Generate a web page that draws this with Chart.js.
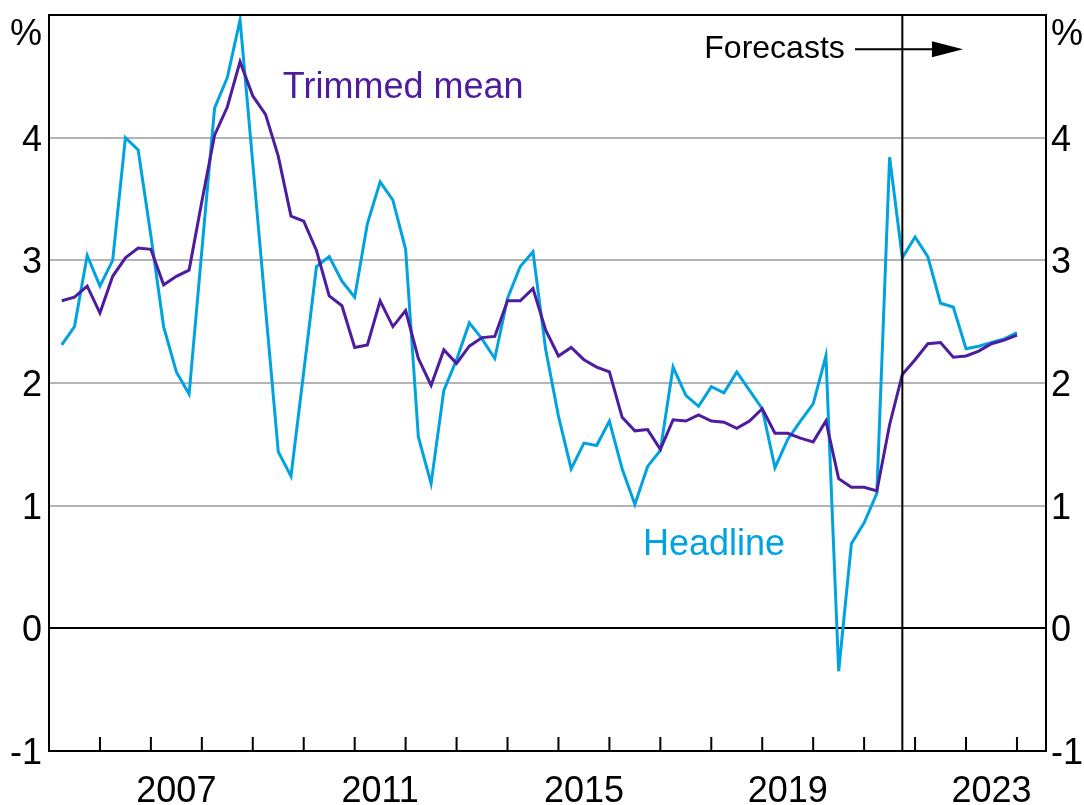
<!DOCTYPE html>
<html>
<head>
<meta charset="utf-8">
<script src="https://cdn.jsdelivr.net/npm/chart.js@4.4.1/dist/chart.umd.min.js"></script>
<style>
  html, body { margin: 0; padding: 0; background: #fff; }
  #wrap { width: 1084px; height: 805px; }
</style>
</head>
<body>
<div id="wrap"><canvas id="cpi" width="1084" height="805"></canvas></div>
<script>
// quarterly, year-ended %, Mar 2005 .. Dec 2023 (forecasts from Dec 2021)
const firstYear = 2005;
const headline = [
    2.31, 2.46, 3.04, 2.79, 3.00, 4.00, 3.90, 3.20, 2.46, 2.09, 1.91, 3.08,
    4.24, 4.49, 4.96, 3.79, 2.61, 1.44, 1.24, 2.09, 2.95, 3.03, 2.83, 2.70,
    3.30, 3.64, 3.49, 3.09, 1.56, 1.18, 1.94, 2.19, 2.49, 2.36, 2.20, 2.69,
    2.95, 3.07, 2.27, 1.73, 1.30, 1.51, 1.49, 1.69, 1.30, 1.01, 1.32, 1.45,
    2.13, 1.90, 1.81, 1.97, 1.92, 2.09, 1.94, 1.79, 1.31, 1.54, 1.69, 1.83,
    2.22, -0.35, 0.69, 0.86, 1.10, 3.84, 3.02, 3.19, 3.03, 2.65, 2.62, 2.28,
    2.30, 2.33, 2.36, 2.41
];
const trimmedMean = [
    2.67, 2.70, 2.79, 2.57, 2.87, 3.02, 3.10, 3.09, 2.80, 2.87, 2.92, 3.48,
    4.02, 4.25, 4.62, 4.34, 4.19, 3.85, 3.36, 3.32, 3.08, 2.71, 2.63, 2.29,
    2.31, 2.67, 2.46, 2.59, 2.20, 1.98, 2.27, 2.16, 2.30, 2.37, 2.38, 2.67,
    2.67, 2.77, 2.43, 2.22, 2.29, 2.19, 2.13, 2.09, 1.72, 1.61, 1.62, 1.46,
    1.70, 1.69, 1.74, 1.69, 1.68, 1.63, 1.69, 1.79, 1.59, 1.59, 1.55, 1.52,
    1.69, 1.22, 1.15, 1.15, 1.12, 1.66, 2.07, 2.19, 2.32, 2.33, 2.21, 2.22,
    2.26, 2.32, 2.35, 2.39
];
const yearLabels = [2007, 2011, 2015, 2019, 2023];
const yTicks = [-1, 0, 1, 2, 3, 4, 5];
const forecastStart = 2021.75;

const HEADLINE_COLOR = '#00a3e0';
const TRIMMED_COLOR = '#4e1c9e';
const FONT = 'Arial, "Liberation Sans", sans-serif';

Chart.defaults.font.family = FONT;
Chart.defaults.color = '#000';

function toPoints(values) {
    return values.map((v, i) => ({ x: firstYear + (i + 1) / 4, y: v }));
}

// no automatic room for half-labels: the frame is placed by hand
function noPad(scale) {
    scale.paddingTop = 0;
    scale.paddingBottom = 0;
    scale.paddingLeft = 0;
    scale.paddingRight = 0;
}

const overlay = {
    id: 'overlay',
    afterDraw(chart) {
        const { ctx, chartArea: a, scales } = chart;
        const x = scales.x, y = scales.y;
        ctx.save();
        ctx.strokeStyle = '#000';
        ctx.lineWidth = 2;
        // top frame
        ctx.beginPath();
        ctx.moveTo(a.left, a.top);
        ctx.lineTo(a.right, a.top);
        ctx.stroke();
        // year ticks, pointing into the plot
        ctx.beginPath();
        for (let yr = Math.ceil(x.min) + 1; yr < x.max; yr++) {
            const px = x.getPixelForValue(yr);
            ctx.moveTo(px, a.bottom);
            ctx.lineTo(px, a.bottom - 14);
        }
        ctx.stroke();
        // forecast divider
        const fx = x.getPixelForValue(forecastStart);
        ctx.beginPath();
        ctx.moveTo(fx, a.top);
        ctx.lineTo(fx, a.bottom);
        ctx.stroke();

        // % labels
        ctx.fillStyle = '#000';
        ctx.font = '36px ' + FONT;
        ctx.textBaseline = 'alphabetic';
        ctx.textAlign = 'right';
        ctx.fillText('%', a.left - 7, 45);
        ctx.textAlign = 'left';
        ctx.fillText('%', a.right + 5, 45);

        // series labels
        ctx.fillStyle = TRIMMED_COLOR;
        ctx.fillText('Trimmed mean', x.getPixelForValue(2009.59), y.getPixelForValue(4.32));
        ctx.fillStyle = HEADLINE_COLOR;
        ctx.fillText('Headline', x.getPixelForValue(2016.66), y.getPixelForValue(0.60));

        // forecasts note + arrow
        ctx.fillStyle = '#000';
        ctx.font = '32px ' + FONT;
        ctx.textAlign = 'right';
        ctx.textBaseline = 'middle';
        const ay = y.getPixelForValue(4.72);
        ctx.fillText('Forecasts', x.getPixelForValue(2020.62), ay);
        const ax0 = x.getPixelForValue(2020.82);
        const ax1 = x.getPixelForValue(2022.94);
        ctx.beginPath();
        ctx.moveTo(ax0, ay);
        ctx.lineTo(ax1 - 20, ay);
        ctx.stroke();
        ctx.beginPath();
        ctx.moveTo(ax1, ay);
        ctx.lineTo(ax1 - 31, ay - 8);
        ctx.lineTo(ax1 - 31, ay + 8);
        ctx.closePath();
        ctx.fill();
        ctx.restore();
    }
};

const config = {
    type: 'line',
    data: {
        datasets: [{
            label: 'Trimmed mean',
            data: toPoints(trimmedMean),
            borderColor: TRIMMED_COLOR,
            borderWidth: 3,
            pointRadius: 0,
            tension: 0
        }, {
            label: 'Headline',
            data: toPoints(headline),
            borderColor: HEADLINE_COLOR,
            borderWidth: 3,
            pointRadius: 0,
            tension: 0
        }]
    },
    options: {
        responsive: false,
        animation: false,
        layout: { padding: { top: 15, left: 0, right: 0, bottom: 0 } },
        plugins: {
            legend: { display: false },
            tooltip: { enabled: false }
        },
        scales: {
            x: {
                type: 'linear',
                position: 'bottom',
                min: 2005,
                max: 2024.57,
                afterBuildTicks: (scale) => {
                    scale.ticks = yearLabels.map(yr => ({ value: yr + 0.5 }));
                },
                afterFit: (scale) => { scale.height = 54; noPad(scale); },
                ticks: {
                    callback: (v) => String(Math.floor(v)),
                    font: { size: 36 },
                    padding: 19,
                    maxRotation: 0,
                    autoSkip: false
                },
                grid: { display: false, drawTicks: false },
                border: { display: true, color: '#000', width: 2 }
            },
            y: {
                position: 'left',
                min: -1,
                max: 5,
                afterBuildTicks: (scale) => {
                    scale.ticks = yTicks.map(v => ({ value: v }));
                },
                afterFit: (scale) => { scale.width = 49; noPad(scale); },
                ticks: {
                    callback: (v) => (v === 5 ? '' : String(v)),
                    font: { size: 36 },
                    padding: 7,
                    labelOffset: 3
                },
                grid: {
                    drawTicks: false,
                    color: (c) => {
                        const v = c.tick.value;
                        if (v === 0) return '#000';
                        if (v === -1 || v === 5) return 'rgba(0,0,0,0)';
                        return '#b4b4b4';
                    },
                    lineWidth: 2
                },
                border: { display: true, color: '#000', width: 2 }
            },
            y2: {
                position: 'right',
                min: -1,
                max: 5,
                afterBuildTicks: (scale) => {
                    scale.ticks = yTicks.map(v => ({ value: v }));
                },
                afterFit: (scale) => { scale.width = 38; noPad(scale); },
                ticks: {
                    callback: (v) => (v === 5 ? '' : String(v)),
                    font: { size: 36 },
                    padding: 5,
                    labelOffset: 3
                },
                grid: { display: false, drawTicks: false },
                border: { display: true, color: '#000', width: 2 }
            }
        }
    },
    plugins: [overlay]
};

const chart = new Chart(document.getElementById('cpi').getContext('2d'), config);
</script>
</body>
</html>
